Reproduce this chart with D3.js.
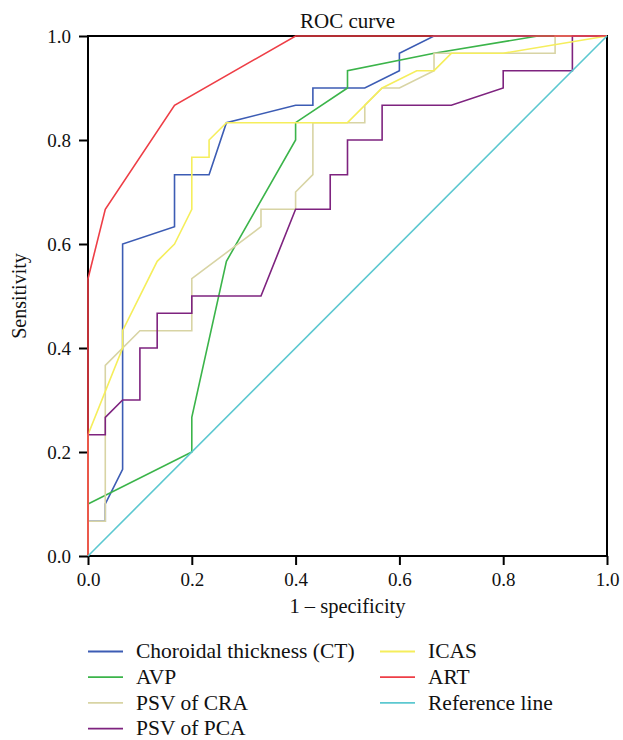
<!DOCTYPE html>
<html>
<head>
<meta charset="utf-8">
<script src="https://cdn.jsdelivr.net/npm/d3@7"></script>
<style>
  body { margin: 0; background: #fff; }
  svg { font-family: "Liberation Serif", "DejaVu Serif", serif; }
</style>
</head>
<body>
<svg id="chart" width="623" height="740"></svg>
<script>
// ROC points, [1 - specificity, sensitivity]
const ctPts   = [[0,0],[0,0.0667],[0.0333,0.0667],[0.0333,0.1],[0.0667,0.1667],[0.0667,0.6],[0.1667,0.6333],[0.1667,0.7333],[0.2333,0.7333],[0.2667,0.8333],[0.4,0.8667],[0.4333,0.8667],[0.4333,0.9],[0.5333,0.9],[0.6,0.9333],[0.6,0.9667],[0.6667,1],[1,1]];
const avpPts  = [[0,0],[0,0.1],[0.2,0.2],[0.2,0.2667],[0.2667,0.5667],[0.4,0.8],[0.4,0.8333],[0.5,0.9],[0.5,0.9333],[0.6667,0.9667],[0.8667,1],[1,1]];
const craPts  = [[0,0],[0,0.0667],[0.0333,0.0667],[0.0333,0.3667],[0.1,0.4333],[0.2,0.4333],[0.2,0.5333],[0.3333,0.6333],[0.3333,0.6667],[0.4,0.6667],[0.4,0.7],[0.4333,0.7333],[0.4333,0.8333],[0.5333,0.8333],[0.5333,0.8667],[0.5667,0.9],[0.6,0.9],[0.6667,0.9333],[0.6667,0.9667],[0.9,0.9667],[0.9,1],[1,1]];
const pcaPts  = [[0,0],[0,0.2333],[0.0333,0.2333],[0.0333,0.2667],[0.0667,0.3],[0.1,0.3],[0.1,0.4],[0.1333,0.4],[0.1333,0.4667],[0.2,0.4667],[0.2,0.5],[0.3333,0.5],[0.4,0.6667],[0.4667,0.6667],[0.4667,0.7333],[0.5,0.7333],[0.5,0.8],[0.5667,0.8],[0.5667,0.8667],[0.7,0.8667],[0.8,0.9],[0.8,0.9333],[0.9333,0.9333],[0.9333,1],[1,1]];
const icasPts = [[0,0],[0,0.2333],[0.0667,0.4],[0.0667,0.4333],[0.1333,0.5667],[0.1667,0.6],[0.2,0.6667],[0.2,0.7667],[0.2333,0.7667],[0.2333,0.8],[0.2667,0.8333],[0.5,0.8333],[0.5667,0.9],[0.6333,0.9333],[0.6667,0.9333],[0.7,0.9667],[0.8,0.9667],[1,1]];
const artPts  = [[0,0],[0,0.5333],[0.0333,0.6667],[0.1667,0.8667],[0.4,1],[1,1]];
const refPts  = [[0,0],[1,1]];

const seriesNames  = ["Choroidal thickness (CT)", "AVP", "PSV of CRA", "PSV of PCA", "ICAS", "ART", "Reference line"];
const seriesPts    = [ctPts, avpPts, craPts, pcaPts, icasPts, artPts, refPts];
const seriesColors = ["#3c5cb4", "#3bb44a", "#d8d4a4", "#7e237f", "#f5ee5c", "#ee3e46", "#5cc8d0"];
const ticks = [0, 0.2, 0.4, 0.6, 0.8, 1.0];

const svg = d3.select("#chart");
const m = {left: 88, right: 16, top: 36, bottom: 184};
const W = 623 - m.left - m.right, H = 740 - m.top - m.bottom;

const x = d3.scaleLinear().domain([0, 1]).range([m.left, m.left + W]);
const y = d3.scaleLinear().domain([0, 1]).range([m.top + H, m.top]);

// frame
svg.append("rect")
   .attr("x", x(0)).attr("y", y(1))
   .attr("width", W).attr("height", H)
   .attr("fill", "none").attr("stroke", "#000").attr("stroke-width", 2);

let xAxis = svg.append("g")
   .attr("transform", `translate(0,${y(0)})`)
   .call(d3.axisBottom(x).tickValues(ticks).tickFormat(d3.format(".1f")).tickSize(9).tickPadding(8));
let yAxis = svg.append("g")
   .attr("transform", `translate(${x(0)},0)`)
   .call(d3.axisLeft(y).tickValues(ticks).tickFormat(d3.format(".1f")).tickSize(9).tickPadding(8));
[xAxis, yAxis].forEach(a => {
	a.select(".domain").remove();
	a.selectAll("line").attr("stroke", "#000").attr("stroke-width", 2);
	a.selectAll("text").attr("fill", "#111").style("font-size", "19px").style("font-family", "Liberation Serif");
});

// curves
let line = d3.line().x(d => x(d[0])).y(d => y(d[1]));
svg.append("g").selectAll("path")
   .data(seriesPts)
   .enter()
   .append("path")
   .attr("d", line)
   .attr("fill", "none")
   .attr("stroke", (d, i) => seriesColors[i])
   .attr("stroke-width", 1.6);

// titles
svg.append("text").attr("x", x(0.5)).attr("y", 27.5)
   .attr("text-anchor", "middle").style("font-size", "21px").attr("fill", "#111")
   .text("ROC curve");
svg.append("text").attr("x", x(0.5)).attr("y", 613)
   .attr("text-anchor", "middle").style("font-size", "20.5px").attr("fill", "#111")
   .text("1 – specificity");
svg.append("text")
   .attr("transform", `translate(26,${y(0.5)}) rotate(-90)`)
   .attr("text-anchor", "middle").style("font-size", "20px").attr("fill", "#111")
   .text("Sensitivity");

// legend: two columns
let legend = svg.append("g").selectAll("g")
   .data(seriesNames)
   .enter()
   .append("g")
   .attr("transform", (d, i) => {
	   let col = i < 4 ? 0 : 1, row = i < 4 ? i : i - 4;
	   return `translate(${col ? 380 : 88},${651.5 + row * 25.7})`;
   });
legend.append("line")
   .attr("x1", 0).attr("x2", 35).attr("y1", 0).attr("y2", 0)
   .attr("stroke", (d, i) => seriesColors[i]).attr("stroke-width", 1.8);
legend.append("text")
   .attr("x", 48).attr("dy", "0.32em")
   .style("font-size", "21.5px").attr("fill", "#111")
   .text(d => d);
</script>
</body>
</html>
